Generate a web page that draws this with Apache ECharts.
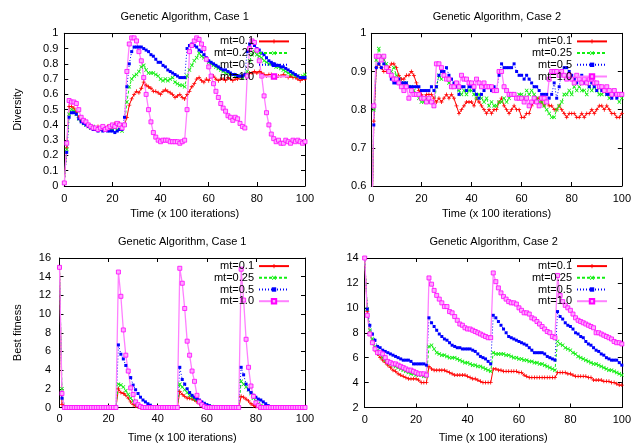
<!DOCTYPE html>
<html><head><meta charset="utf-8">
<script src="https://cdn.jsdelivr.net/npm/echarts@6/dist/echarts.min.js"></script>
<style>html,body{margin:0;padding:0;background:#fff}#c{width:634px;height:444px}</style>
</head><body><div id="c"></div>
<script>
const SERIES_NAMES = ['mt=0.1', 'mt=0.25', 'mt=0.5', 'mt=1.0'];
const TITLES = ['Genetic Algorithm, Case 1', 'Genetic Algorithm, Case 2', 'Genetic Algorithm, Case 1', 'Genetic Algorithm, Case 2'];
const Y_NAMES = ['Diversity', '', 'Best fitness', ''];
const X_NAME = 'Time (x 100 iterations)';
const X_TICKS = { min: 0, max: 100, interval: 20 };
const Y_TICKS = [
  { min: 0, max: 1, interval: 0.1 },
  { min: 0.6, max: 1, interval: 0.1 },
  { min: 0, max: 16, interval: 2 },
  { min: 2, max: 14, interval: 2 }
];

// Panel 1: Diversity, Case 1 (x = 0..100)
const DIV1_MT01 = [0.02,0.25,0.52,0.52,0.51,0.48,0.45,0.43,0.42,0.41,
0.40,0.39,0.38,0.38,0.39,0.38,0.37,0.38,0.39,0.38,
0.39,0.41,0.40,0.41,0.39,0.40,0.45,0.53,0.57,0.60,
0.62,0.61,0.64,0.68,0.66,0.65,0.64,0.62,0.62,0.61,
0.60,0.62,0.63,0.62,0.61,0.60,0.58,0.59,0.60,0.58,
0.57,0.60,0.62,0.65,0.67,0.70,0.71,0.69,0.68,0.70,
0.69,0.72,0.72,0.70,0.69,0.70,0.70,0.69,0.71,0.70,
0.69,0.70,0.70,0.71,0.72,0.73,0.72,0.74,0.74,0.75,
0.74,0.75,0.74,0.73,0.72,0.73,0.73,0.72,0.71,0.72,
0.72,0.73,0.72,0.71,0.72,0.71,0.71,0.70,0.69,0.70,0.70];
const DIV1_MT025 = [0.02,0.24,0.47,0.50,0.49,0.47,0.44,0.43,0.41,0.40,
0.39,0.38,0.39,0.38,0.37,0.38,0.37,0.37,0.38,0.37,
0.37,0.38,0.37,0.37,0.36,0.40,0.55,0.65,0.70,0.72,
0.73,0.75,0.78,0.79,0.76,0.74,0.74,0.74,0.73,0.72,
0.70,0.69,0.70,0.69,0.70,0.71,0.68,0.67,0.66,0.66,
0.65,0.72,0.76,0.79,0.82,0.84,0.87,0.85,0.84,0.83,
0.81,0.80,0.79,0.78,0.77,0.76,0.75,0.74,0.74,0.73,
0.73,0.72,0.72,0.72,0.71,0.72,0.75,0.82,0.86,0.88,
0.86,0.85,0.84,0.82,0.81,0.80,0.80,0.79,0.78,0.78,
0.77,0.76,0.75,0.74,0.73,0.73,0.72,0.72,0.71,0.72,0.73];
const DIV1_MT05 = [0.02,0.22,0.45,0.48,0.48,0.47,0.44,0.42,0.41,0.40,
0.39,0.38,0.37,0.37,0.36,0.37,0.36,0.37,0.36,0.36,
0.36,0.35,0.36,0.37,0.37,0.45,0.65,0.80,0.88,0.91,
0.91,0.91,0.91,0.90,0.89,0.88,0.86,0.85,0.83,0.81,
0.81,0.79,0.78,0.76,0.75,0.74,0.73,0.72,0.71,0.71,
0.71,0.90,0.92,0.93,0.92,0.91,0.89,0.88,0.86,0.84,
0.82,0.81,0.80,0.79,0.78,0.77,0.76,0.76,0.75,0.74,
0.73,0.73,0.72,0.72,0.72,0.73,0.88,0.93,0.94,0.92,
0.90,0.89,0.87,0.86,0.84,0.82,0.81,0.80,0.79,0.79,
0.78,0.78,0.77,0.76,0.75,0.74,0.73,0.72,0.71,0.71,0.71];
const DIV1_MT1 = [0.02,0.28,0.56,0.55,0.55,0.54,0.50,0.45,0.43,0.42,
0.40,0.39,0.38,0.38,0.37,0.38,0.39,0.37,0.38,0.39,
0.40,0.39,0.41,0.40,0.38,0.40,0.75,0.93,0.97,0.97,
0.95,0.88,0.82,0.71,0.60,0.50,0.42,0.35,0.32,0.30,
0.29,0.30,0.30,0.30,0.29,0.29,0.29,0.29,0.28,0.29,
0.30,0.50,0.88,0.92,0.95,0.97,0.96,0.93,0.90,0.83,
0.78,0.72,0.67,0.62,0.58,0.54,0.51,0.49,0.46,0.45,
0.43,0.45,0.44,0.41,0.39,0.38,0.72,0.90,0.95,0.94,
0.89,0.82,0.72,0.59,0.48,0.40,0.34,0.31,0.29,0.30,
0.28,0.28,0.30,0.29,0.28,0.30,0.29,0.30,0.29,0.28,0.29];

// Panel 2: Diversity, Case 2
const DIV2_MT01 = [0.40,0.77,0.91,0.92,0.91,0.90,0.90,0.91,0.92,0.92,
0.91,0.89,0.88,0.88,0.89,0.89,0.90,0.89,0.87,0.85,
0.84,0.83,0.84,0.84,0.84,0.83,0.82,0.83,0.82,0.83,
0.84,0.83,0.84,0.83,0.81,0.79,0.80,0.81,0.82,0.82,
0.82,0.81,0.83,0.82,0.81,0.80,0.79,0.80,0.79,0.80,
0.80,0.82,0.83,0.81,0.80,0.79,0.80,0.81,0.80,0.80,
0.78,0.78,0.79,0.79,0.81,0.82,0.83,0.83,0.82,0.81,
0.82,0.81,0.81,0.80,0.80,0.81,0.80,0.79,0.78,0.79,
0.79,0.79,0.78,0.78,0.79,0.78,0.79,0.79,0.80,0.79,
0.80,0.81,0.81,0.80,0.81,0.80,0.79,0.79,0.78,0.78,0.79];
const DIV2_MT025 = [0.40,0.80,0.93,0.96,0.94,0.93,0.92,0.90,0.90,0.91,
0.89,0.88,0.87,0.87,0.87,0.86,0.86,0.85,0.84,0.83,
0.82,0.82,0.83,0.82,0.82,0.81,0.86,0.89,0.88,0.89,
0.88,0.87,0.86,0.86,0.86,0.85,0.84,0.85,0.84,0.85,
0.85,0.84,0.83,0.84,0.83,0.82,0.83,0.81,0.82,0.81,
0.81,0.82,0.82,0.83,0.82,0.83,0.84,0.84,0.83,0.84,
0.84,0.83,0.85,0.84,0.85,0.84,0.83,0.82,0.82,0.81,
0.80,0.79,0.78,0.78,0.80,0.81,0.82,0.84,0.84,0.85,
0.84,0.86,0.85,0.86,0.85,0.85,0.84,0.86,0.85,0.86,
0.85,0.84,0.84,0.85,0.84,0.83,0.84,0.85,0.84,0.82,0.83];
const DIV2_MT05 = [0.40,0.76,0.91,0.92,0.91,0.92,0.91,0.90,0.88,0.87,
0.87,0.88,0.87,0.87,0.87,0.86,0.86,0.86,0.86,0.86,
0.85,0.85,0.85,0.85,0.86,0.85,0.86,0.89,0.90,0.90,
0.91,0.89,0.88,0.87,0.86,0.84,0.86,0.86,0.85,0.86,
0.86,0.85,0.84,0.83,0.84,0.85,0.86,0.86,0.85,0.86,
0.85,0.89,0.92,0.91,0.91,0.91,0.91,0.92,0.90,0.89,
0.89,0.88,0.89,0.88,0.87,0.86,0.86,0.85,0.84,0.84,
0.84,0.83,0.84,0.87,0.83,0.86,0.90,0.91,0.91,0.90,
0.89,0.88,0.87,0.88,0.89,0.87,0.87,0.86,0.87,0.86,
0.85,0.86,0.85,0.85,0.84,0.84,0.83,0.84,0.83,0.84,0.84];
const DIV2_MT1 = [0.40,0.81,0.94,0.94,0.93,0.94,0.91,0.90,0.89,0.88,
0.88,0.87,0.86,0.85,0.86,0.83,0.85,0.84,0.84,0.84,
0.83,0.83,0.82,0.83,0.82,0.81,0.92,0.92,0.91,0.89,
0.88,0.88,0.86,0.86,0.87,0.86,0.89,0.88,0.88,0.87,
0.87,0.86,0.88,0.87,0.86,0.87,0.86,0.86,0.86,0.85,
0.85,0.90,0.90,0.86,0.85,0.84,0.84,0.84,0.83,0.83,
0.83,0.82,0.83,0.81,0.82,0.83,0.82,0.81,0.83,0.83,
0.82,0.88,0.90,0.90,0.90,0.89,0.90,0.89,0.88,0.89,
0.88,0.87,0.89,0.88,0.87,0.88,0.87,0.88,0.88,0.87,
0.87,0.86,0.86,0.85,0.86,0.85,0.84,0.85,0.84,0.84,0.84];

// Panel 3: Best fitness, Case 1
const FIT1_MT01 = [15,0.3,0,0,0,0,0,0,0,0,
0,0,0,0,0,0,0,0,0,0,
0,0,0,0,2.0,1.6,1.5,1.3,1.0,0.6,
0.3,0.15,0.05,0,0,0,0,0,0,0,
0,0,0,0,0,0,0,0,0,1.7,
1.4,1.2,1.0,1.0,0.9,0.8,0.6,0.4,0.2,0.1,
0,0,0,0,0,0,0,0,0,0,
0,0,0,0,1.2,1.1,0.9,0.7,0.4,0.2,
0.1,0,0,0,0,0,0,0,0,0,
0,0,0,0,0,0,0,0,0,0,0];
const FIT1_MT025 = [15,2.0,0,0,0,0,0,0,0,0,
0,0,0,0,0,0,0,0,0,0,
0,0,0,0,2.5,2.4,2.2,1.8,1.4,1.0,
0.7,0.4,0.2,0.05,0,0,0,0,0,0,
0,0,0,0,0,0,0,0,0,2.5,
2.2,1.9,1.6,1.3,1.1,0.9,0.8,0.6,0.4,0.3,
0.2,0.15,0.1,0.05,0,0,0,0,0,0,
0,0,0,0,2.8,2.5,2.2,1.9,1.5,1.0,
0.7,0.4,0.2,0.1,0,0,0,0,0,0,
0,0,0,0,0,0,0,0,0,0,0];
const FIT1_MT05 = [15,1.0,0,0,0,0,0,0,0,0,
0,0,0,0,0,0,0,0,0,0,
0,0,0,0,6.7,5.7,5.2,4.5,3.9,3.2,
2.4,1.9,1.5,1.1,0.8,0.6,0.4,0.25,0.1,0,
0,0,0,0,0,0,0,0,0,4.3,
3.0,2.5,2.0,1.6,1.3,1.1,0.9,0.8,0.6,0.45,
0.3,0.2,0.1,0.05,0,0,0,0,0,0,
0,0,0,0,4.3,3.5,2.5,1.9,1.6,1.3,
1.1,0.9,0.8,0.6,0.4,0.2,0.1,0.05,0,0,
0,0,0,0,0,0,0,0,0,0,0];
const FIT1_MT1 = [15,1.5,0,0,0,0,0,0,0,0,
0,0,0,0,0,0,0,0,0,0,
0,0,0,0,14.5,11.9,8.3,5.6,3.9,2.1,
1.4,0.6,0.3,0.1,0,0,0,0,0,0,
0,0,0,0,0,0,0,0,0,14.9,
13.3,10.6,7.1,5.6,3.9,2.8,1.3,0.6,0.3,0.1,
0,0,0,0,0,0,0,0,0,0,
0,0,0,0,14.8,11.5,7.3,4.3,2.3,1.2,
0.5,0.2,0,0,0,0,0,0,0,0,
0,0,0,0,0,0,0,0,0,0,0];

// Panel 4: Best fitness, Case 2
const FIT2_MT01 = [14,9.7,8.0,7.2,6.6,6.3,6.0,5.8,5.6,5.4,
5.2,5.0,4.9,4.7,4.6,4.5,4.4,4.3,4.3,4.3,
4.3,4.2,4.0,4.0,4.0,5.3,5.1,5.0,5.0,5.0,
5.0,5.0,4.9,4.8,4.7,4.6,4.6,4.6,4.6,4.6,
4.5,4.4,4.3,4.3,4.2,4.1,4.0,4.0,4.0,4.0,
5.1,5.1,5.0,5.0,4.9,4.9,4.9,4.9,4.9,4.9,
4.8,4.8,4.6,4.5,4.4,4.4,4.4,4.4,4.4,4.4,
4.4,4.4,4.4,4.4,4.4,4.8,4.8,4.8,4.8,4.7,
4.7,4.6,4.5,4.5,4.5,4.5,4.5,4.4,4.4,4.2,
4.2,4.2,4.2,4.1,4.1,4.1,4.0,4.0,3.9,3.8,3.8];
const FIT2_MT025 = [14,9.9,8.2,7.5,6.9,6.6,6.3,6.0,5.8,5.6,
5.5,5.4,5.3,5.2,5.1,5.0,4.9,4.8,4.7,4.7,
4.6,4.6,4.6,4.5,4.5,6.9,7.0,6.7,6.4,6.3,
6.2,6.2,6.1,6.0,6.0,6.0,5.9,5.8,5.7,5.6,
5.6,5.5,5.4,5.4,5.3,5.3,5.2,5.1,5.0,4.9,
6.4,6.3,6.3,6.3,6.3,6.2,6.2,6.1,6.0,6.0,
5.9,5.9,5.8,5.8,5.7,5.7,5.6,5.6,5.5,5.5,
5.4,5.3,5.2,5.1,5.0,7.3,7.1,7.0,6.8,6.7,
6.6,6.4,6.3,6.1,6.0,5.9,5.8,5.7,5.6,5.5,
5.5,5.4,5.3,5.2,5.1,5.0,5.0,4.9,4.8,4.7,4.6];
const FIT2_MT05 = [14,9.9,8.6,7.9,7.4,6.9,6.8,6.6,6.5,6.4,
6.3,6.2,6.1,6.0,5.9,5.8,5.8,5.8,5.7,5.5,
5.5,5.5,5.5,5.5,5.4,9.2,8.8,8.5,8.2,7.9,
7.7,7.5,7.4,7.2,7.0,6.9,6.8,6.8,6.7,6.7,
6.7,6.7,6.6,6.5,6.3,6.1,6.0,5.9,5.7,5.5,
9.4,9.2,8.9,8.6,8.3,8.0,7.7,7.6,7.5,7.4,
7.3,7.2,7.1,7.0,6.8,6.6,6.4,6.4,6.4,6.4,
6.3,6.1,6.0,5.9,5.8,9.7,9.3,9.1,8.8,8.6,
8.5,8.3,8.0,7.9,7.7,7.6,7.3,7.1,7.0,6.8,
6.6,6.5,6.3,6.2,6.0,5.9,5.8,5.8,5.8,5.6,5.4];
const FIT2_MT1 = [14,9.4,7.9,7.2,6.7,6.4,6.4,6.3,6.0,5.7,
5.6,5.5,5.5,5.4,5.3,5.2,5.1,5.0,5.0,4.9,
4.8,4.7,4.7,4.7,4.6,12.4,11.9,11.4,11.0,10.7,
10.4,10.1,10.1,9.7,9.6,9.3,9.0,8.7,8.6,8.4,
8.3,8.3,8.2,8.1,8.0,7.9,7.8,7.7,7.6,7.6,
12.8,12.1,11.6,11.2,10.9,10.7,10.5,10.4,10.4,10.3,
10.0,9.8,9.6,9.6,9.5,9.2,9.1,8.9,8.7,8.5,
8.3,8.1,8.0,7.7,7.6,12.6,11.0,10.5,10.2,10.0,
9.8,9.5,9.2,9.0,8.9,8.8,8.7,8.6,8.5,8.4,
8.0,8.0,7.9,7.8,7.7,7.6,7.5,7.3,7.2,7.2,7.1];

const PANEL_DATA = [
  [DIV1_MT01, DIV1_MT025, DIV1_MT05, DIV1_MT1],
  [DIV2_MT01, DIV2_MT025, DIV2_MT05, DIV2_MT1],
  [FIT1_MT01, FIT1_MT025, FIT1_MT05, FIT1_MT1],
  [FIT2_MT01, FIT2_MT025, FIT2_MT05, FIT2_MT1]
];

// ---- layout / style ----
const FONT = "'Liberation Sans', Arial, Helvetica, sans-serif";
const LAYOUT = [
  { left: 64.3, top: 33.3, width: 240.7, height: 152.7, ylm: 6, xlm: 7, yng: 41, xng: 22, legRight: 344 },
  { left: 371.3, top: 33.3, width: 251.2, height: 152.7, ylm: 5, xlm: 7, yng: 40, xng: 22, legRight: 26 },
  { left: 59.5, top: 258, width: 245.5, height: 153.2, ylm: 8.5, xlm: 6, yng: 36, xng: 24.5, legRight: 344 },
  { left: 364.7, top: 258, width: 257.8, height: 153.2, ylm: 6, xlm: 7, yng: 40, xng: 24.5, legRight: 26 }
];
const PLUS = 'path://M2,0H3V2H5V3H3V5H2V3H0V2H2Z';
const CROSS = 'path://M0,0.7L0.7,0L2.5,1.8L4.3,0L5,0.7L3.2,2.5L5,4.3L4.3,5L2.5,3.2L0.7,5L0,4.3L1.8,2.5Z';
const STYLES = [
  { symbol: PLUS, symbolSize: 4, lineStyle: { color: '#ff0000', width: 1, type: 'solid' }, itemStyle: { color: '#ff0000' } },
  { symbol: CROSS, symbolSize: 4, lineStyle: { color: '#11ee11', width: 1, type: [3, 2] }, itemStyle: { color: '#11ee11' } },
  { symbol: 'rect', symbolSize: 3, lineStyle: { color: '#0000ff', width: 1, type: [1, 2] }, itemStyle: { color: '#0000ff' } },
  { symbol: 'rect', symbolSize: 4, lineStyle: { color: '#ff80ff', width: 1.3, type: 'solid' }, itemStyle: { color: '#ffa8ff', borderColor: '#ff00ff', borderWidth: 0.8 } }
];

const axisLine = { show: true, onZero: false, lineStyle: { color: '#000', width: 1 } };
const axisTick = { show: true, inside: true, length: 4, lineStyle: { color: '#000', width: 1 } };
const labelStyle = { color: '#000', fontSize: 11, fontFamily: FONT };

const grid = [], xAxis = [], yAxis = [], title = [], legend = [], series = [];
LAYOUT.forEach((L, p) => {
  grid.push({ left: L.left, top: L.top, width: L.width, height: L.height, containLabel: false });
  const yt = Y_TICKS[p];
  xAxis.push({
    gridIndex: p, type: 'value', position: 'bottom', min: X_TICKS.min, max: X_TICKS.max, interval: X_TICKS.interval,
    axisLine, axisTick, splitLine: { show: false },
    axisLabel: Object.assign({ margin: L.xlm }, labelStyle),
    name: X_NAME, nameLocation: 'middle', nameGap: L.xng, nameTextStyle: labelStyle
  });
  xAxis.push({
    gridIndex: p, type: 'value', position: 'top', min: X_TICKS.min, max: X_TICKS.max, interval: X_TICKS.interval,
    axisLine, axisTick, splitLine: { show: false }, axisLabel: { show: false }
  });
  yAxis.push({
    gridIndex: p, type: 'value', position: 'left', min: yt.min, max: yt.max, interval: yt.interval,
    axisLine, axisTick, splitLine: { show: false },
    axisLabel: Object.assign({ margin: L.ylm }, labelStyle),
    name: Y_NAMES[p], nameLocation: 'middle', nameGap: L.yng, nameTextStyle: labelStyle
  });
  yAxis.push({
    gridIndex: p, type: 'value', position: 'right', min: yt.min, max: yt.max, interval: yt.interval,
    axisLine, axisTick, splitLine: { show: false }, axisLabel: { show: false }
  });
  title.push({
    text: TITLES[p], left: L.left + L.width / 2, top: L.top - 21.5, textAlign: 'center', padding: 0,
    textStyle: { fontSize: 11, fontWeight: 'normal', color: '#000', fontFamily: FONT }
  });
  legend.push({
    data: SERIES_NAMES, orient: 'vertical', align: 'right', right: L.legRight, top: L.top + 2.6,
    padding: 0, itemWidth: 30, itemHeight: 5.5, itemGap: 0.7, selectedMode: false,
    textStyle: { color: '#000', fontSize: 11, fontFamily: FONT, lineHeight: 11 }
  });
  PANEL_DATA[p].forEach((arr, s) => {
    const st = STYLES[s];
    series.push({
      type: 'line', name: SERIES_NAMES[s], xAxisIndex: 2 * p, yAxisIndex: 2 * p,
      data: arr.map((v, i) => [i, v]),
      symbol: st.symbol, symbolSize: st.symbolSize, showSymbol: true, showAllSymbol: true,
      lineStyle: st.lineStyle, itemStyle: st.itemStyle, clip: true,
      emphasis: { disabled: true }, animation: false
    });
  });
});

const chart = echarts.init(document.getElementById('c'), null, { renderer: 'canvas' });
chart.setOption({ animation: false, backgroundColor: '#fff', grid, xAxis, yAxis, title, legend, series });
</script>
</body></html>
